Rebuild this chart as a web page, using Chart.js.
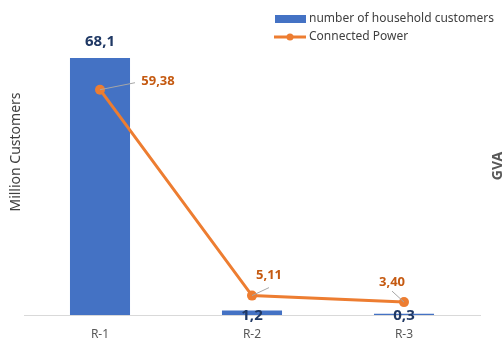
<!DOCTYPE html>
<html>
<head>
<meta charset="utf-8">
<script src="https://cdn.jsdelivr.net/npm/chart.js@4/dist/chart.umd.min.js"></script>
<style>
  html, body { margin: 0; padding: 0; background: #fff; }
  #wrap { width: 504px; height: 345px; position: relative; }
</style>
</head>
<body>
<div id="wrap"><canvas id="c" width="504" height="345"></canvas></div>
<script>
// Regions and their values
const categories = ['R-1', 'R-2', 'R-3'];
const householdCustomers = [68.1, 1.2, 0.3];      // million customers
const connectedPower = [59.38, 5.11, 3.40];       // GVA
const customerLabels = ['68,1', '1,2', '0,3'];
const powerLabels = ['59,38', '5,11', '3,40'];

const BLUE = '#4472c4';
const ORANGE = '#ed7d31';
const FONT = '"Noto Sans", "Open Sans", sans-serif';

// Value labels, leader lines, axis titles and legend
const annotate = {
  id: 'annotate',
  afterDatasetsDraw(chart) {
    const ctx = chart.ctx;
    const bars = chart.getDatasetMeta(0).data;
    const pts = chart.getDatasetMeta(1).data;
    ctx.save();
    ctx.textAlign = 'center';
    ctx.textBaseline = 'middle';

    // bar values
    ctx.fillStyle = '#1f3864';
    ctx.font = 'bold 15px ' + FONT;
    bars.forEach((b, i) => {
      const y = i === 0 ? b.y - 16 : chart.scales.x.top + 1;
      ctx.fillText(customerLabels[i], b.x, y);
    });

    // line values with leader lines
    const offs = [[58, -8, 35, -7], [17, -20, 17, -8], [-12, -20, -12, -11]];
    pts.forEach((p, i) => {
      const o = offs[i];
      ctx.strokeStyle = '#a6a6a6';
      ctx.lineWidth = 1;
      ctx.beginPath();
      ctx.moveTo(p.x, p.y);
      ctx.lineTo(p.x + o[2], p.y + o[3]);
      ctx.stroke();
      ctx.fillStyle = '#c55a11';
      ctx.font = 'bold 13px ' + FONT;
      ctx.fillText(powerLabels[i], p.x + o[0], p.y + o[1]);
    });

    // axis titles
    ctx.fillStyle = '#404040';
    ctx.font = '14px ' + FONT;
    ctx.save();
    ctx.translate(16, 152);
    ctx.rotate(-Math.PI / 2);
    ctx.fillText('Million Customers', 0, 0);
    ctx.restore();
    ctx.fillStyle = '#595959';
    ctx.font = 'bold 14px ' + FONT;
    ctx.save();
    ctx.translate(498, 166);
    ctx.rotate(-Math.PI / 2);
    ctx.fillText('GVA', 0, 0);
    ctx.restore();

    // legend
    ctx.textAlign = 'left';
    ctx.font = '12px ' + FONT;
    ctx.fillStyle = BLUE;
    ctx.fillRect(275, 15, 31, 8);
    ctx.fillStyle = '#404040';
    ctx.fillText(chart.data.datasets[0].label, 309, 19);
    ctx.strokeStyle = ORANGE;
    ctx.lineWidth = 3;
    ctx.beginPath();
    ctx.moveTo(274, 37);
    ctx.lineTo(306, 37);
    ctx.stroke();
    ctx.fillStyle = ORANGE;
    ctx.beginPath();
    ctx.arc(290, 37, 3.5, 0, Math.PI * 2);
    ctx.fill();
    ctx.fillStyle = '#404040';
    ctx.fillText(chart.data.datasets[1].label, 309, 37);
    ctx.restore();
  }
};

new Chart(document.getElementById('c'), {
  data: {
    labels: categories,
    datasets: [
      {
        type: 'bar',
        label: 'number of household customers',
        data: householdCustomers,
        backgroundColor: BLUE,
        yAxisID: 'y',
        barPercentage: 0.79,
        categoryPercentage: 0.5,
        order: 2
      },
      {
        type: 'line',
        label: 'Connected Power',
        data: connectedPower,
        borderColor: ORANGE,
        backgroundColor: ORANGE,
        borderWidth: 3,
        pointRadius: 5,
        pointBackgroundColor: ORANGE,
        pointBorderWidth: 0,
        yAxisID: 'y2',
        order: 1
      }
    ]
  },
  options: {
    responsive: false,
    animation: false,
    devicePixelRatio: 1,
    layout: { padding: { left: 24, right: 24, top: 13, bottom: 0 } },
    plugins: {
      legend: { display: false },
      tooltip: { enabled: false }
    },
    scales: {
      x: {
        grid: { display: false, drawTicks: false },
        border: { display: true, color: '#d9d9d9', width: 1 },
        ticks: { color: '#595959', font: { family: FONT, size: 12 }, padding: 12 },
        afterFit(scale) { scale.height = 30; }
      },
      y: {
        display: false,
        min: 0,
        max: 80
      },
      y2: {
        display: false,
        position: 'right',
        min: 0,
        max: 79.6
      }
    }
  },
  plugins: [annotate]
});
</script>
</body>
</html>
